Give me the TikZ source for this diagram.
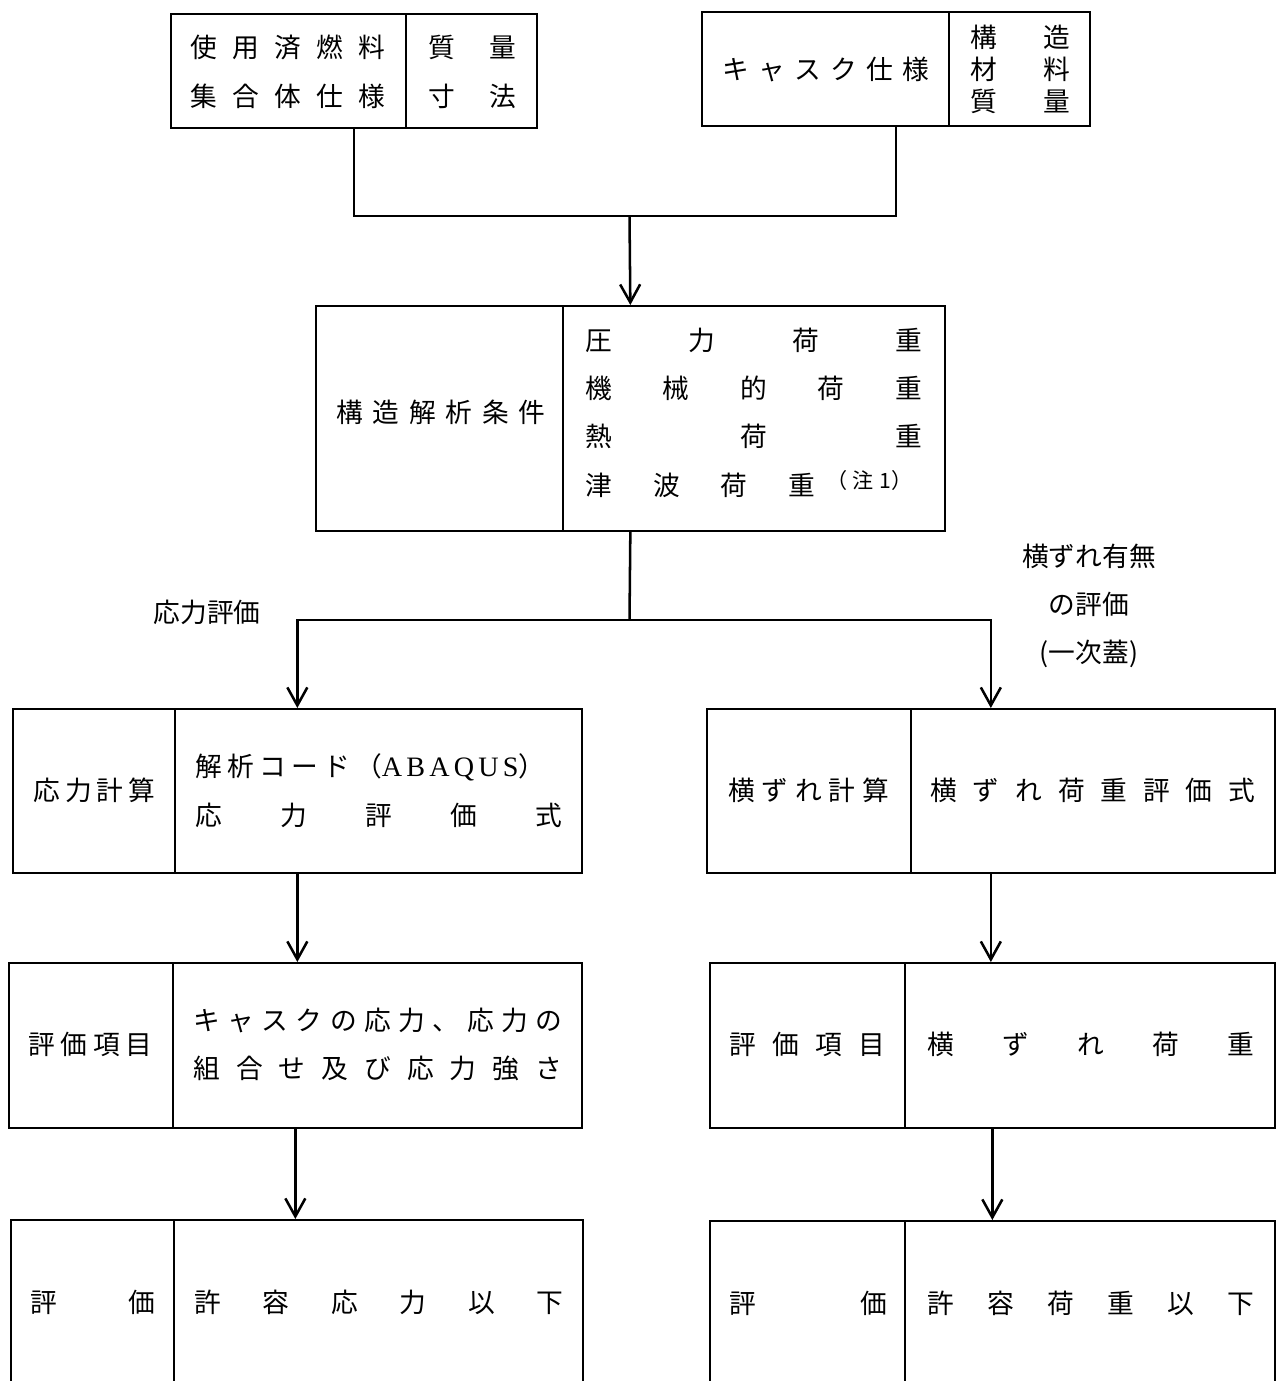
\documentclass[tikz,border=0pt]{standalone}
\usepackage{fontspec}
\setmainfont{Liberation Serif}
\newfontfamily\jpfont{Noto Sans CJK JP}
\usetikzlibrary{arrows.meta}
\newlength\pxu
\setlength\pxu{0.025cm}
% spread the characters of #2 evenly over #1 px
\def\jsploop#1{\ifx#1\relax\else#1\hfill\expandafter\jsploop\fi}
\newcommand\jspread[2]{\makebox[#1\pxu][s]{\jsploop#2\relax\unskip}}

\begin{document}
\begin{tikzpicture}[x=0.025cm,y=-0.025cm,
  blk/.style={draw,line width=1.2pt,inner sep=0pt,anchor=north west},
  dv/.style={line width=0.9pt},
  txt/.style={anchor=west,inner sep=0pt,font=\jpfont\fontsize{19pt}{22pt}\selectfont},
  lbl/.style={inner sep=0pt,align=center,font=\jpfont\fontsize{19pt}{34pt}\selectfont},
  wire/.style={line width=1.8pt},
  arr/.style={wire,-{Straight Barb[length=4.5mm,width=5mm]}}]
  \useasboundingbox (0,0) rectangle (1279,1381);
  \clip (0,0) rectangle (1279,1381);
  % top row
  \node[blk,minimum width=366\pxu,minimum height=114\pxu] (fuel) at (170,13) {};
  \draw[dv] (406,13) -- (406,127);
  \node[txt] (fuel1) at (190,47) {\jspread{195}{使用済燃料}};
  \node[txt] (fuel2) at (190,96) {\jspread{195}{集合体仕様}};
  \node[txt] (fuel3) at (428,47) {\jspread{88}{質量}};
  \node[txt] (fuel4) at (428,96) {\jspread{88}{寸法}};
  \node[blk,minimum width=388\pxu,minimum height=114\pxu] (cask) at (701,11) {};
  \draw[dv] (949,11) -- (949,125);
  \node[txt] (cask1) at (722,69) {\jspread{207}{キャスク仕様}};
  \node[txt] (cask2) at (970,37) {\jspread{100}{構造}};
  \node[txt] (cask3) at (970,69) {\jspread{100}{材料}};
  \node[txt] (cask4) at (970,101) {\jspread{100}{質量}};
  % analysis conditions
  \node[blk,minimum width=629\pxu,minimum height=225\pxu] (cond) at (315,305) {};
  \draw[dv] (563,305) -- (563,530);
  \node[txt] (cond0) at (336,412) {\jspread{209}{構造解析条件}};
  \node[txt] (cond1) at (585,340) {\jspread{337}{圧力荷重}};
  \node[txt] (cond2) at (585,388) {\jspread{337}{機械的荷重}};
  \node[txt] (cond3) at (585,436) {\jspread{337}{熱荷重}};
  \node[txt] (cond4) at (585,485) {\jspread{230}{津波荷重}};
  \node[txt,font=\jpfont\fontsize{15pt}{17pt}\selectfont] (note) at (826,480) {\makebox[86\pxu][s]{（\hfill 注\hfill 1）}};
  % calculation
  \node[blk,minimum width=569\pxu,minimum height=164\pxu] (calcL) at (12,708) {};
  \draw[dv] (175,708) -- (175,872);
  \node[txt] (calcL0) at (33,790) {\jspread{122}{応力計算}};
  \node[txt] (calcL1) at (195,767) {\makebox[350\pxu][s]{解\hfill 析\hfill コ\hfill ー\hfill ド\hfill （{\rmfamily\fontsize{20pt}{22pt}\selectfont A\kern3pt B\kern3pt A\kern3pt Q\kern3pt U\kern3pt S}）}};
  \node[txt] (calcL2) at (195,815) {\jspread{367}{応力評価式}};
  \node[blk,minimum width=568\pxu,minimum height=164\pxu] (calcR) at (706,708) {};
  \draw[dv] (911,708) -- (911,872);
  \node[txt] (calcR0) at (728,790) {\jspread{161}{横ずれ計算}};
  \node[txt] (calcR1) at (930,790) {\jspread{325}{横ずれ荷重評価式}};
  % evaluation items
  \node[blk,minimum width=573\pxu,minimum height=165\pxu] (itemL) at (8,962) {};
  \draw[dv] (173,962) -- (173,1127);
  \node[txt] (itemL0) at (28,1044) {\jspread{124}{評価項目}};
  \node[txt] (itemL1) at (193,1020) {\jspread{369}{キャスクの応力、応力の}};
  \node[txt] (itemL2) at (193,1068) {\jspread{369}{組合せ及び応力強さ}};
  \node[blk,minimum width=565\pxu,minimum height=165\pxu] (itemR) at (709,962) {};
  \draw[dv] (905,962) -- (905,1127);
  \node[txt] (itemR0) at (729,1044) {\jspread{156}{評価項目}};
  \node[txt] (itemR1) at (927,1044) {\jspread{327}{横ずれ荷重}};
  % evaluation
  \node[blk,minimum width=572\pxu,minimum height=200\pxu] (evalL) at (10,1219) {};
  \draw[dv] (174,1219) -- (174,1419);
  \node[txt] (evalL0) at (30,1302) {\jspread{125}{評価}};
  \node[txt] (evalL1) at (194,1302) {\jspread{369}{許容応力以下}};
  \node[blk,minimum width=565\pxu,minimum height=200\pxu] (evalR) at (709,1220) {};
  \draw[dv] (905,1220) -- (905,1420);
  \node[txt] (evalR0) at (729,1303) {\jspread{158}{評価}};
  \node[txt] (evalR1) at (927,1303) {\jspread{327}{許容荷重以下}};
  % joins
  \coordinate (jn) at (629.5,216);
  \coordinate (sp) at (629.5,620);
  \draw[wire] (fuel.south) |- (jn) -| (cask.south);
  \draw[arr] (jn) -- (cond.north);
  \draw[wire] (cond.south) -- (sp);
  \draw[arr] (sp) -| (calcL.north);
  \draw[arr] (sp) -| (calcR.north);
  \node[lbl] (lblL) at (207,612) {応力評価};
  \node[lbl] (lblR) at (1089,606) {横ずれ有無\\の評価\\(一次蓋)};
  % downward arrows
  \draw[arr] (calcL.south) -- (calcL.south |- itemL.north);
  \draw[arr] (calcR.south) -- (calcR.south |- itemR.north);
  \draw[arr] (itemL.south) -- (itemL.south |- evalL.north);
  \draw[arr] (itemR.south) -- (itemR.south |- evalR.north);
\end{tikzpicture}
\end{document}
